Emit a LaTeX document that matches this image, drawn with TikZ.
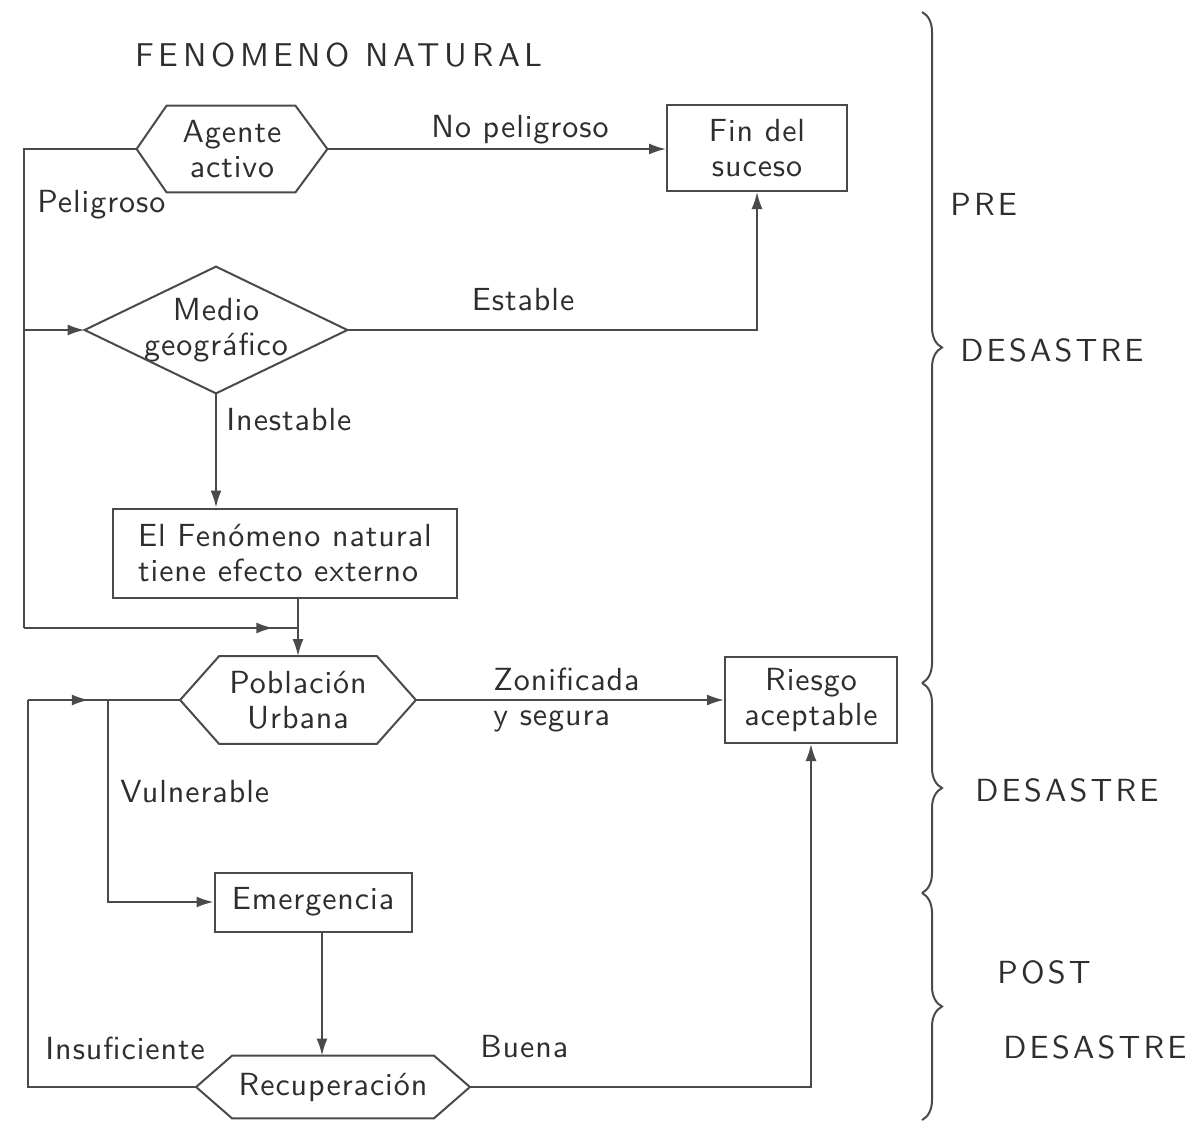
\documentclass[tikz,border=0pt]{standalone}
\usepackage{fontspec}
\setmainfont{lmsans10-regular}[Extension=.otf]
\usetikzlibrary{arrows.meta,decorations.markings,decorations.pathreplacing,calc}
\definecolor{ln}{HTML}{4A4A4A}
\definecolor{tx}{HTML}{2E2E2E}
\begin{document}
\begin{tikzpicture}[x=0.5pt,y=-0.5pt,
  every node/.style={text=tx, font=\fontsize{16}{17.5}\selectfont\addfontfeatures{LetterSpace=3}},
  box/.style={draw=ln, line width=1pt, align=center, inner sep=0pt},
  shp/.style={draw=none, align=center, inner sep=0pt},
  outl/.style={draw=ln, line width=1pt, line join=miter},
  conn/.style={draw=ln, line width=1pt},
  arr/.style={conn, -{Latex[length=8.5pt,width=5.5pt]}},
  midarr/.style={conn, postaction={decorate}, decoration={markings, mark=at position #1 with {\arrow{Latex[length=8.5pt,width=5.5pt]}}}},
  lab/.style={inner sep=0pt},
  caps/.style={inner sep=0pt, font=\fontsize{16}{18}\selectfont\addfontfeatures{LetterSpace=10}},
  titl/.style={inner sep=0pt, font=\fontsize{16.5}{18}\selectfont\addfontfeatures{LetterSpace=14}},
  brc/.style={draw=ln, line width=1pt, decorate, decoration={brace, amplitude=10pt}}
]
\fill[white] (0,0) rectangle (1202,1130);
\useasboundingbox (0,0) rectangle (1202,1130);

% title
\node[titl] (title) at (339,55) {FENOMENO NATURAL};

% nodes
\node[shp, minimum width=95pt, minimum height=43pt] (ag) at (232,149) {Agente\\activo};
\draw[outl] (ag.west) -- ($(ag.north west)+(30,0)$) -- ($(ag.north east)+(-32,0)$) -- (ag.east)
  -- ($(ag.south east)+(-32,0)$) -- ($(ag.south west)+(30,0)$) -- cycle;

\node[box, minimum width=90pt, minimum height=43pt] (fin) at (757,148) {Fin del\\suceso};

\node[shp, minimum width=131pt, minimum height=63pt] (med) at (216,330) {Medio\\geográfico};
\draw[outl] (med.west) -- (med.north) -- (med.east) -- (med.south) -- cycle;

\node[box, align=left, minimum width=172pt, minimum height=44.5pt] (efe) at (285,553) {El Fenómeno natural\\tiene efecto externo};

\node[shp, minimum width=117.5pt, minimum height=43.5pt] (pob) at (298,700) {Población\\Urbana};
\draw[outl] (pob.west) -- ($(pob.north west)+(39,0)$) -- ($(pob.north east)+(-39,0)$) -- (pob.east)
  -- ($(pob.south east)+(-39,0)$) -- ($(pob.south west)+(39,0)$) -- cycle;

\node[box, minimum width=86pt, minimum height=43pt] (rie) at (811,700) {Riesgo\\aceptable};

\node[box, minimum width=98.5pt, minimum height=29.5pt] (eme) at (313,902) {Emergencia};

\node[shp, minimum width=136.5pt, minimum height=31pt] (rec) at (333,1087) {Recuperación};
\draw[outl] (rec.west) -- ($(rec.north west)+(36,0)$) -- ($(rec.north east)+(-36,0)$) -- (rec.east)
  -- ($(rec.south east)+(-36,0)$) -- ($(rec.south west)+(36,0)$) -- cycle;

% coordinates
\coordinate (lt) at (ag.west -| 24,0);
\coordinate (lb) at (24,628);
\coordinate (jn) at (pob.north |- lb);
\coordinate (vt) at (pob.west -| 108,0);
\coordinate (vb) at (eme.west -| 108,0);
\coordinate (es) at ([xshift=4.5pt]eme.south);
\coordinate (rl) at (rec.west -| 28,0);
\coordinate (rt) at (pob.west -| 28,0);

% connectors
\draw[arr] (ag.east) -- (ag.east -| fin.west);
\draw[conn] (ag.west) -- (lt) -- (lb);
\draw[midarr=0.91] (lb) -- (jn);
\draw[arr] (lt |- med.west) -- (med.west);
\draw[arr] (med.east) -- (med.east -| fin.south) -- (fin.south);
\draw[arr] (med.south) -- (med.south |- efe.north);
\draw[arr] (pob.north |- efe.south) -- (pob.north);
\draw[arr] (pob.east) -- (pob.east -| rie.west);
\draw[arr] (pob.west) -- (vt) -- (vb) -- (eme.west);
\draw[arr] (es) -- (es |- rec.north);
\draw[arr] (rec.east) -- (rec.east -| rie.south) -- (rie.south);
\draw[conn] (rec.west) -- (rl) -- (rt);
\draw[midarr=0.4] (rt) -- (pob.west);

% labels
\node[lab] (l1) at (520,130) {No peligroso};
\node[lab, anchor=west] (l2) at (37,205) {Peligroso};
\node[lab] (l3) at (523,300) {Estable};
\node[lab, anchor=west] (l4) at (226,420) {Inestable};
\node[lab, anchor=west, align=left] (l5) at (493,700) {Zonificada\\y segura};
\node[lab, anchor=west] (l6) at (120,792) {Vulnerable};
\node[lab, anchor=west] (l7) at (45,1048) {Insuficiente};
\node[lab, anchor=west] (l8) at (480,1047) {Buena};

% braces
\draw[brc] (922,12) -- (922,683);
\draw[brc] (922,683) -- (922,893);
\draw[brc] (922,893) -- (922,1120);

\node[caps, anchor=west] (r1) at (950,204) {PRE};
\node[caps, anchor=west] (r2) at (960,350) {DESASTRE};
\node[caps, anchor=west] (r3) at (975,790) {DESASTRE};
\node[caps, anchor=west] (r4) at (997,972) {POST};
\node[caps, anchor=west] (r5) at (1003,1047) {DESASTRE};
\end{tikzpicture}
\end{document}
